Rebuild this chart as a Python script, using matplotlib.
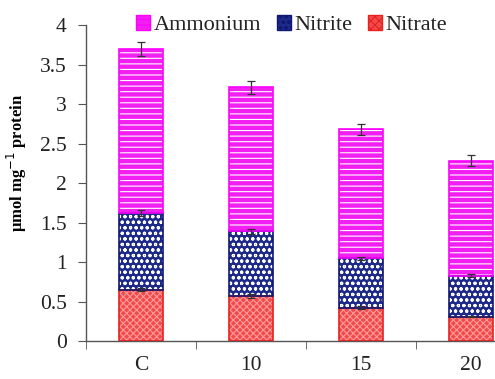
import matplotlib
matplotlib.use("Agg")
import matplotlib.pyplot as plt
import numpy as np
from matplotlib.patches import Patch

categories = ["C", "10", "15", "20"]
nitrate = [0.65, 0.57, 0.42, 0.31]
nitrite = [0.97, 0.82, 0.63, 0.52]
ammonium = [2.08, 1.82, 1.63, 1.45]
nitrate_err = [0.02, 0.02, 0.02, 0.01]
nitrite_err = [0.04, 0.03, 0.02, 0.02]
ammonium_err = [0.09, 0.08, 0.07, 0.07]

plt.rcParams['font.family'] = ['Liberation Serif', 'DejaVu Serif']
plt.rcParams['hatch.linewidth'] = 0.8

fig = plt.figure(figsize=(4.95, 3.79), dpi=100)
ax = fig.add_axes([0.174, 0.100, 0.826, 0.834])

x = np.arange(len(categories)) + 0.5
w = 0.4
nitrate = np.array(nitrate); nitrite = np.array(nitrite); ammonium = np.array(ammonium)

layers = [
    (nitrate, np.zeros(4), "#f24a4a", "#ff9a9a", "xxxxx", "#e82020", nitrate_err, "Nitrate"),
    (nitrite, nitrate, "#1e2a8a", "#ffffff", "ooo", "#101870", nitrite_err, "Nitrite"),
    (ammonium, nitrate + nitrite, "#f21ff2", "#ffffff", "---", "#ff00ff", ammonium_err, "Ammonium"),
]
for vals, bottom, fc, hc, hatch, ec, err, name in layers:
    ax.bar(x, vals, w, bottom=bottom, color=fc, edgecolor=hc, hatch=hatch, linewidth=0, zorder=2)
    ax.bar(x, vals, w, bottom=bottom, fill=False, edgecolor=ec, linewidth=1.2, zorder=3)
    ax.errorbar(x, bottom + vals, yerr=err, fmt='none', ecolor='#333333', elinewidth=0.9,
                capsize=3, capthick=0.9, zorder=4)

ax.set_xlim(0, (495 - 86) / 110)
ax.set_ylim(0, 4)
ax.set_yticks([0, 0.5, 1, 1.5, 2, 2.5, 3, 3.5, 4])
ax.set_yticklabels(["0", "0.5", "1", "1.5", "2", "2.5", "3", "3.5", "4"], fontsize=15.5,
                   color='#222222')
ax.set_xticks(x)
ax.set_xticklabels(categories, fontsize=15.5, color='#222222')
ax.tick_params(axis='x', which='major', length=0, pad=11)
ax.set_xticks([0, 1, 2, 3], minor=True)
ax.tick_params(axis='x', which='minor', length=6, direction='out', color='#555555')
ax.tick_params(axis='y', length=6, direction='out', color='#555555', pad=8)
for s in ['top', 'right']:
    ax.spines[s].set_visible(False)
for s in ['left', 'bottom']:
    ax.spines[s].set_color('#555555')
    ax.spines[s].set_linewidth(1.0)

ax.set_ylabel("µmol mg$^{-1}$ protein", fontsize=12, fontweight='bold')
ax.yaxis.set_label_coords(-0.139, 0.563)

handles = [
    Patch(facecolor="#f21ff2", edgecolor="#ff00ff", hatch="---", label="Ammonium"),
    Patch(facecolor="#1e2a8a", edgecolor="#101870", hatch="ooo", label="Nitrite"),
    Patch(facecolor="#f24a4a", edgecolor="#e82020", hatch="xxxx", label="Nitrate"),
]
leg = fig.legend(handles=handles, loc='center', bbox_to_anchor=(0.589, 0.934), ncol=3,
                 frameon=False, fontsize=16, handlelength=0.65, handleheight=0.65,
                 handletextpad=0.15, columnspacing=0.7, borderaxespad=0)
for t in leg.get_texts():
    t.set_color('#222222')

fig.savefig("out.png", dpi=100)
